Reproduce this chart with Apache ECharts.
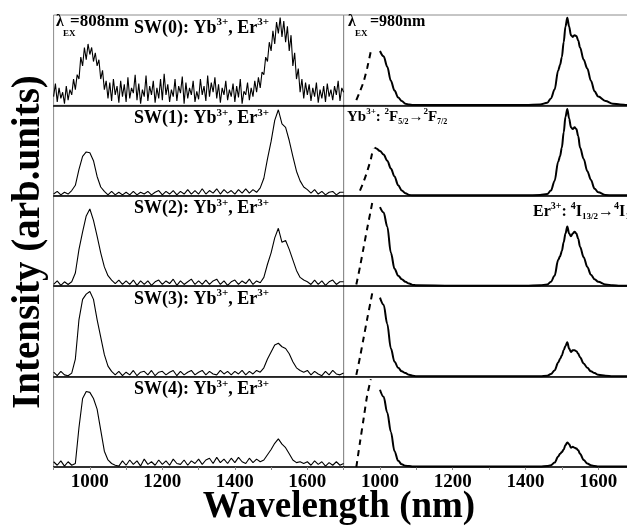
<!DOCTYPE html>
<html><head><meta charset="utf-8">
<script src="https://cdn.jsdelivr.net/npm/echarts@6/dist/echarts.min.js"></script>
<style>html,body{margin:0;padding:0;background:#fff}#c{width:627px;height:528px}</style>
</head><body><div id="c"></div>
<script>
// ---------- DATA ----------
const leftWave5 = [
  900,905,910,915,920,925,930,935,940,945,
  950,955,960,965,970,975,980,985,990,995,
  1000,1005,1010,1015,1020,1025,1030,1035,1040,1045,
  1050,1055,1060,1065,1070,1075,1080,1085,1090,1095,
  1100,1105,1110,1115,1120,1125,1130,1135,1140,1145,
  1150,1155,1160,1165,1170,1175,1180,1185,1190,1195,
  1200,1205,1210,1215,1220,1225,1230,1235,1240,1245,
  1250,1255,1260,1265,1270,1275,1280,1285,1290,1295,
  1300,1305,1310,1315,1320,1325,1330,1335,1340,1345,
  1350,1355,1360,1365,1370,1375,1380,1385,1390,1395,
  1400,1405,1410,1415,1420,1425,1430,1435,1440,1445,
  1450,1455,1460,1465,1470,1475,1480,1485,1490,1495,
  1500,1505,1510,1515,1520,1525,1530,1535,1540,1545,
  1550,1555,1560,1565,1570,1575,1580,1585,1590,1595,
  1600,1605,1610,1615,1620,1625,1630,1635,1640,1645,
  1650,1655,1660,1665,1670,1675,1680,1685,1690,1695,
  1700];
const leftWave = [
  900,910,920,930,940,950,960,970,980,990,
  1000,1010,1020,1030,1040,1050,1060,1070,1080,1090,
  1100,1110,1120,1130,1140,1150,1160,1170,1180,1190,
  1200,1210,1220,1230,1240,1250,1260,1270,1280,1290,
  1300,1310,1320,1330,1340,1350,1360,1370,1380,1390,
  1400,1410,1420,1430,1440,1450,1460,1470,1480,1490,
  1500,1510,1520,1530,1540,1550,1560,1570,1580,1590,
  1600,1610,1620,1630,1640,1650,1660,1670,1680,1690,
  1700];
const sw0 = [
  0.10,0.25,0.04,0.20,0.08,0.15,0.02,0.22,0.06,0.18,
  0.12,0.30,0.18,0.35,0.30,0.55,0.45,0.66,0.52,0.70,
  0.58,0.66,0.50,0.60,0.45,0.52,0.30,0.40,0.18,0.28,
  0.08,0.26,0.05,0.30,0.12,0.22,0.03,0.28,0.10,0.24,
  0.04,0.32,0.08,0.20,0.14,0.35,0.06,0.25,0.02,0.18,
  0.10,0.34,0.05,0.22,0.12,0.28,0.03,0.20,0.08,0.30,
  0.06,0.36,0.12,0.24,0.04,0.18,0.10,0.30,0.05,0.22,
  0.14,0.33,0.02,0.26,0.08,0.20,0.12,0.28,0.04,0.16,
  0.07,0.30,0.12,0.22,0.05,0.34,0.10,0.26,0.15,0.32,
  0.08,0.24,0.03,0.20,0.12,0.28,0.06,0.18,0.10,0.25,
  0.04,0.22,0.09,0.30,0.02,0.16,0.12,0.26,0.06,0.20,
  0.10,0.28,0.15,0.32,0.20,0.38,0.35,0.55,0.50,0.72,
  0.62,0.85,0.70,0.95,0.82,1.00,0.78,0.96,0.72,0.90,
  0.62,0.80,0.45,0.60,0.30,0.42,0.15,0.30,0.08,0.26,
  0.12,0.24,0.05,0.20,0.10,0.26,0.03,0.18,0.08,0.22,
  0.04,0.25,0.10,0.18,0.06,0.22,0.12,0.28,0.05,0.20,
  0.15];
const sw1 = [
  0.02,0.05,0.01,0.04,0.02,0.06,0.12,0.30,0.45,0.50,
  0.49,0.40,0.22,0.10,0.05,0.01,0.05,0.01,0.04,0.01,
  0.04,0.01,0.05,0.01,0.04,0.02,0.05,0.01,0.04,0.06,
  0.01,0.05,0.02,0.06,0.01,0.05,0.02,0.07,0.02,0.06,
  0.02,0.08,0.02,0.06,0.03,0.08,0.02,0.07,0.03,0.06,
  0.02,0.07,0.03,0.08,0.03,0.07,0.04,0.09,0.20,0.42,
  0.62,0.86,0.98,0.82,0.78,0.63,0.45,0.28,0.17,0.10,
  0.07,0.03,0.07,0.02,0.05,0.01,0.04,0.05,0.01,0.04,
  0.04];
const sw2 = [
  0.02,0.06,0.01,0.05,0.02,0.05,0.15,0.42,0.62,0.80,
  0.88,0.75,0.57,0.38,0.22,0.12,0.07,0.03,0.07,0.02,
  0.06,0.02,0.07,0.01,0.06,0.02,0.06,0.01,0.05,0.07,
  0.02,0.06,0.03,0.08,0.01,0.06,0.02,0.05,0.08,0.02,
  0.06,0.02,0.07,0.02,0.06,0.08,0.02,0.06,0.01,0.05,
  0.07,0.02,0.06,0.03,0.08,0.02,0.06,0.04,0.10,0.25,
  0.38,0.55,0.66,0.50,0.52,0.42,0.30,0.18,0.10,0.07,
  0.05,0.02,0.07,0.02,0.06,0.01,0.05,0.07,0.02,0.05,
  0.05];
const sw3 = [
  0.05,0.01,0.06,0.02,0.01,0.04,0.20,0.65,0.88,0.94,
  0.97,0.88,0.65,0.45,0.25,0.12,0.06,0.02,0.06,0.01,
  0.05,0.02,0.07,0.01,0.05,0.06,0.02,0.07,0.01,0.05,
  0.06,0.02,0.05,0.07,0.01,0.06,0.02,0.05,0.07,0.02,
  0.05,0.07,0.02,0.06,0.03,0.02,0.07,0.03,0.06,0.02,
  0.06,0.03,0.07,0.02,0.06,0.03,0.07,0.05,0.10,0.20,
  0.28,0.36,0.38,0.34,0.32,0.26,0.17,0.10,0.07,0.05,
  0.07,0.02,0.06,0.03,0.01,0.06,0.02,0.07,0.03,0.02,
  0.04];
const sw4 = [
  0.06,0.02,0.07,0.01,0.06,0.02,0.04,0.45,0.78,0.86,
  0.85,0.78,0.66,0.42,0.18,0.08,0.04,0.02,0.01,0.07,
  0.02,0.08,0.03,0.07,0.01,0.09,0.03,0.06,0.02,0.08,
  0.03,0.07,0.02,0.09,0.04,0.03,0.08,0.02,0.07,0.04,
  0.09,0.03,0.08,0.10,0.04,0.11,0.05,0.09,0.04,0.10,
  0.05,0.11,0.06,0.04,0.10,0.05,0.09,0.06,0.08,0.14,
  0.20,0.27,0.32,0.26,0.22,0.15,0.08,0.05,0.06,0.04,
  0.06,0.02,0.07,0.03,0.06,0.01,0.05,0.02,0.06,0.02,
  0.04];

const rightWave = [985,990,
  1000,1010,1020,1030,1040,1050,1060,1070,1080,1090,1100,
  1200,1300,1400,
  1440,1460,1470,1480,1490,
  1495,1500,1505,1510,1515,1520,1525,1530,1535,1540,1545,1550,
  1560,1570,1580,1590,1600,
  1620,1640,1660,1680,1700];
const em0 = [null,null,
  0.62,0.56,0.44,0.28,0.17,0.09,0.05,0.02,0.01,0.005,0.005,
  0.005,0.005,0.005,
  0.01,0.03,0.08,0.18,0.40,
  0.46,0.55,0.72,0.90,1.00,0.90,0.80,0.78,0.80,0.79,0.74,0.66,
  0.52,0.42,0.28,0.16,0.10,
  0.05,0.02,0.01,0.005,0.005];
const em1 = [0.55,0.54,
  0.51,0.47,0.40,0.31,0.22,0.12,0.06,0.03,0.01,0.005,0.005,
  0.005,0.005,0.005,
  0.01,0.02,0.06,0.17,0.39,
  0.45,0.55,0.72,0.90,0.99,0.88,0.78,0.76,0.78,0.76,0.68,0.55,
  0.42,0.28,0.18,0.08,0.04,
  0.01,0.005,0.005,0.005,0.005];
const em2 = [null,null,
  0.90,0.84,0.68,0.38,0.20,0.12,0.08,0.05,0.03,0.015,0.01,
  0.005,0.005,0.005,
  0.01,0.02,0.05,0.12,0.30,
  0.34,0.40,0.50,0.60,0.68,0.60,0.57,0.60,0.62,0.60,0.54,0.45,
  0.33,0.22,0.13,0.08,0.05,
  0.02,0.01,0.005,0.005,0.005];
const em3 = [null,null,
  0.90,0.82,0.60,0.32,0.17,0.10,0.06,0.04,0.02,0.01,0.005,
  0.005,0.005,0.005,
  0.005,0.01,0.03,0.07,0.16,
  0.20,0.24,0.30,0.35,0.39,0.32,0.28,0.30,0.30,0.29,0.26,0.22,
  0.15,0.10,0.06,0.04,0.02,
  0.01,0.005,0.005,0.005,0.005];
const em4 = [null,null,
  0.88,0.80,0.62,0.40,0.18,0.07,0.03,0.015,0.01,0.005,0.005,
  0.005,0.005,0.005,
  0.005,0.01,0.02,0.05,0.12,
  0.15,0.17,0.20,0.25,0.28,0.26,0.22,0.23,0.22,0.21,0.19,0.15,
  0.08,0.04,0.02,0.01,0.005,
  0.005,0.005,0.005,0.005,0.005];

const exWave = [935,945,955,965,975,981];
const ex0 = [0.06,0.16,0.27,0.43,0.62,null];
const ex1 = [null,0.06,0.16,0.28,0.42,0.54];
const ex2 = [0.02,0.22,0.44,0.66,0.87,1.00];
const ex3 = [0.02,0.22,0.44,0.66,0.87,1.00];
const ex4 = [0.00,0.28,0.55,0.82,1.00,null];

const tickLabels = [1000,1200,1400,1600];
const swLabels = ['SW(0)','SW(1)','SW(2)','SW(3)','SW(4)'];

// ---------- LAYOUT ----------
const FONT = '"Liberation Serif","Times New Roman",serif';
const ROW_TOP = 15, ROW_H = 90.4, LEFT_X = 53.6, MID_X = 343.6, COL_W = 290, RIGHT_W = 291;

const leftWaves = [leftWave5, leftWave, leftWave, leftWave, leftWave];
const leftRows = [sw0,sw1,sw2,sw3,sw4];
const rightRows = [em0,em1,em2,em3,em4];
const exRows = [ex0,ex1,ex2,ex3,ex4];
function pairs(xs, ys){ return xs.map((x,i)=>[x, ys[i]]); }

const grids=[], xAxes=[], yAxes=[], series=[];
for (let r=0;r<5;r++){
  for (let c=0;c<2;c++){
    const gi = grids.length;
    grids.push({left: c?MID_X:LEFT_X, top: ROW_TOP + r*ROW_H, width: c?RIGHT_W:COL_W, height: ROW_H,
      show:true, borderColor:'#8c8c8c', borderWidth:1, backgroundColor:'transparent',
      containLabel:false, outerBoundsMode:'none'});
    xAxes.push({type:'value', gridIndex:gi, min:900, max:1700, interval:100,
      axisLine:{show:true, onZero:false, lineStyle:{color:'#000', width:1.5}},
      axisTick:{show:r===4, length:3, lineStyle:{color:'#888', width:1}},
      axisLabel:{show:r===4, margin:6, color:'#000', fontFamily:FONT, fontWeight:'bold', fontSize:19,
        formatter:v=> tickLabels.indexOf(v)>=0 ? String(v) : ''},
      splitLine:{show:false}});
    yAxes.push({type:'value', gridIndex:gi, min:0, max:1.03, show:false});
    if (c===0){
      series.push({type:'line', xAxisIndex:gi, yAxisIndex:gi, data:pairs(leftWaves[r], leftRows[r]),
        showSymbol:false, symbol:'none', lineStyle:{color:'#000', width:1.1}, animation:false, z:3});
    } else {
      series.push({type:'line', xAxisIndex:gi, yAxisIndex:gi, data:pairs(rightWave, rightRows[r]),
        showSymbol:false, symbol:'none', smooth:0.35, smoothMonotone:'x', connectNulls:false,
        lineStyle:{color:'#000', width:2}, animation:false, z:3});
      series.push({type:'line', xAxisIndex:gi, yAxisIndex:gi, data:pairs(exWave, exRows[r]),
        showSymbol:false, symbol:'none', smooth:0.3, connectNulls:false,
        lineStyle:{color:'#000', width:2, type:[6,5]}, animation:false, z:3});
    }
  }
}

// ---------- TEXT ----------
const mctx = document.createElement('canvas').getContext('2d');
function tw(t,s){ mctx.font = 'bold '+s+'px '+FONT; return mctx.measureText(t).width; }
const gfx = [];
function txt(t, x, base, s, extra){
  const el = {type:'text', x:x, y: base - 0.34*s, z:10,
    style:Object.assign({text:t, fill:'#000', fontFamily:FONT, fontWeight:'bold', fontSize:s,
      align:'left', verticalAlign:'middle'}, extra||{})};
  gfx.push(el);
}
function seq(x, base, parts){
  let cx = x;
  parts.forEach(p=>{ txt(p[0], cx, base + (p[2]||0), p[1]); cx += tw(p[0], p[1]); });
}

for (let r=0;r<5;r++){
  const b = ROW_TOP + r*ROW_H + 19;
  seq(134, b, [[swLabels[r]+': Yb',18,0],['3+',11,-8],[', Er',18,0],['3+',11,-8]]);
}
// excitation labels
txt('\u03bb', 56, 27, 16); txt('EX', 63, 37, 9); txt('=808nm', 70, 27, 17);
txt('\u03bb', 348, 27, 16); txt('EX', 355, 37, 9); txt('=980nm', 370, 27, 16);
// transitions
seq(347, ROW_TOP + ROW_H + 16.5, [['Yb',15,0],['3+',9,-7],[': ',15,0],['2',9,-7],['F',15,0],['5/2',8,3],
  ['\u2192',15,0],['2',9,-7],['F',15,0],['7/2',8,3]]);
seq(533, ROW_TOP + 2*ROW_H + 21, [['Er',16,0],['3+',10,-7],[': ',16,0],['4',10,-7],['I',16,0],['13/2',9,3],
  ['\u2192',16,0],['4',10,-7],['I',16,0],['15/2',9,3]]);

// axis titles
gfx.push({type:'text', x:339, y:520 - 0.34*37, z:10,
  style:{text:'Wavelength (nm)', fill:'#000', fontFamily:FONT, fontWeight:'bold', fontSize:37, align:'center', verticalAlign:'middle'}});
gfx.push({type:'text', x:29, y:242, rotation:Math.PI/2, z:10,
  style:{text:'Intensity (arb.units)', fill:'#000', fontFamily:FONT, fontWeight:'bold', fontSize:39, align:'center', verticalAlign:'middle'}});

const chart = echarts.init(document.getElementById('c'), null, {renderer:'canvas'});
chart.setOption({animation:false, backgroundColor:'#fff', grid:grids, xAxis:xAxes, yAxis:yAxes, series:series, graphic:{elements:gfx}});
</script></body></html>
